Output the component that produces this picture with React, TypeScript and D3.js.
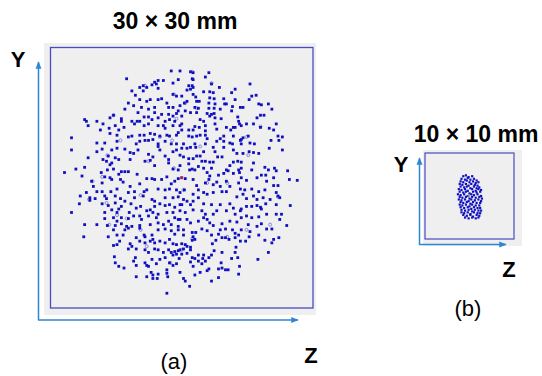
import React from "react";
import * as d3 from "d3";

// spot positions in mm, [z, y], origin at lower-left of the 30 x 30 mm field
const spotsA: [number, number][] = [
  [13.8,27.3],[8.7,26.4],[12.3,26.2],[12.9,26.2],[11.9,26.0],[14.0,25.9],[14.6,26.3],[10.6,25.6],[11.6,25.7],[12.1,25.8],
  [11.0,25.4],[10.2,25.4],[10.6,25.0],[12.3,25.3],[9.3,25.0],[9.7,24.5],[14.0,24.6],[14.4,24.4],[12.7,24.1],[12.3,24.0],
  [11.0,23.8],[11.4,24.0],[10.2,24.0],[8.9,23.6],[9.5,23.3],[10.4,23.1],[11.2,22.9],[11.9,23.1],[13.3,23.6],[13.5,23.1],
  [14.0,23.1],[14.6,22.7],[8.5,22.9],[10.0,22.5],[10.7,22.0],[11.2,22.0],[11.9,22.5],[12.3,21.9],[12.7,22.3],[13.5,22.3],
  [14.0,22.1],[14.4,22.4],[7.2,22.2],[6.8,21.9],[3.9,21.7],[4.1,21.5],[5.3,21.5],[8.1,21.8],[8.1,21.5],[9.9,21.5],
  [10.2,21.5],[9.3,21.5],[11.6,21.7],[13.1,21.5],[13.6,21.7],[14.2,21.5],[4.3,21.0],[6.0,21.2],[6.7,20.7],[7.4,21.0],
  [8.4,20.8],[9.6,21.2],[10.7,21.0],[11.2,21.2],[12.3,21.0],[12.9,21.0],[13.1,20.7],[14.0,21.0],[14.8,21.0],[5.7,20.5],
  [7.8,20.5],[2.4,19.6],[6.8,20.1],[7.6,19.9],[8.9,19.7],[9.3,19.8],[10.2,19.9],[10.7,19.9],[11.4,20.1],[11.9,20.0],
  [12.5,19.8],[13.3,19.9],[13.6,19.8],[14.4,19.9],[14.6,20.2],[6.2,19.0],[5.3,19.0],[7.6,19.2],[9.8,18.9],[10.2,19.2],
  [10.8,19.3],[11.2,19.3],[11.7,19.4],[12.3,18.9],[13.1,19.2],[13.8,18.9],[14.4,18.9],
  [14.8,27.3],[16.0,27.2],[16.3,27.1],[18.1,27.1],[17.7,26.6],[16.2,26.4],[16.3,26.3],[18.4,25.8],[15.8,25.6],[16.2,25.6],
  [16.3,25.4],[16.0,25.2],[15.6,25.1],[19.3,25.4],[21.1,25.2],[22.8,25.8],[17.5,24.9],[18.2,24.9],[18.6,24.8],[20.7,24.8],
  [16.3,24.6],[16.6,24.3],[15.0,24.4],[18.2,24.2],[18.7,24.1],[19.8,24.1],[21.1,24.0],[23.5,24.5],[23.0,24.4],[22.7,24.0],
  [15.3,23.6],[15.6,23.8],[16.7,23.8],[17.0,23.8],[18.1,23.6],[18.8,23.5],[19.9,23.5],[20.1,23.5],[20.8,23.2],[23.8,23.5],
  [24.1,23.4],[24.9,23.5],[21.7,23.1],[22.0,23.1],[25.3,22.9],[14.8,23.3],[16.5,23.1],[16.9,23.0],[18.1,23.0],[18.7,23.0],
  [19.4,22.9],[20.7,22.7],[15.4,22.7],[16.0,22.5],[16.7,22.5],[17.9,22.4],[18.4,22.3],[18.7,22.4],[18.2,22.1],[18.8,21.9],
  [15.0,22.1],[17.1,21.7],[17.5,21.5],[19.5,21.8],[21.4,22.0],[23.6,21.9],[24.0,22.2],[24.4,22.2],[23.2,21.2],[17.7,21.0],
  [18.8,21.2],[21.5,21.5],[21.6,21.2],[21.8,21.0],[20.1,20.8],[20.9,20.8],[21.1,20.8],[22.4,21.2],[24.0,20.8],[25.0,20.7],
  [25.8,21.2],[15.0,21.2],[16.5,20.9],[17.0,20.8],[15.8,20.5],[16.3,20.5],[15.0,20.5],[17.7,20.4],[19.0,20.6],[20.6,20.5],
  [25.5,20.5],[17.1,19.9],[17.7,19.9],[15.8,19.8],[16.2,19.7],[16.7,19.8],[17.9,19.5],[19.8,19.8],[20.9,19.8],[22.0,19.6],
  [22.6,19.8],[26.0,19.8],[26.5,19.7],[25.2,19.3],[26.1,19.3],[19.4,19.5],[21.7,19.3],[21.8,19.4],[19.0,19.2],[19.8,19.2],
  [20.5,19.0],[20.8,18.9],[21.8,18.9],[22.8,19.0],[23.3,18.9],[17.7,18.9],[15.2,18.9],[16.5,18.9],
  [2.4,18.2],[5.3,18.0],[5.9,18.3],[7.0,18.2],[7.6,18.4],[8.5,18.3],[9.1,17.9],[10.0,18.2],[9.5,17.8],[11.2,17.7],
  [11.7,17.4],[12.3,18.6],[13.1,17.5],[12.5,18.2],[13.5,17.1],[14.0,18.0],[14.4,18.2],[6.6,17.5],[7.4,17.3],[7.8,17.1],
  [4.3,17.3],[6.0,17.1],[6.4,16.9],[7.0,16.7],[6.8,16.5],[9.1,17.1],[10.8,16.9],[11.4,17.0],[11.9,16.4],[13.5,16.7],
  [14.0,16.0],[14.6,15.9],[2.9,16.0],[3.9,16.2],[1.6,15.6],[3.6,15.2],[5.8,15.6],[6.5,15.9],[7.2,16.0],[8.1,15.7],
  [8.5,15.7],[8.9,15.7],[9.9,15.4],[7.8,15.4],[6.8,15.0],[6.2,15.1],[4.7,14.6],[5.9,14.4],[7.0,14.8],[8.0,14.8],
  [8.3,14.5],[10.2,14.3],[11.0,14.9],[11.6,14.9],[11.9,14.8],[12.7,14.8],[13.3,15.1],[13.8,14.3],[14.2,14.6],[14.6,14.9],
  [4.9,14.0],[5.3,13.4],[5.9,13.4],[6.9,13.4],[7.6,13.7],[9.1,14.0],[9.6,13.4],[10.7,13.4],[11.0,13.6],[12.3,13.7],
  [13.1,13.6],[13.6,13.7],[14.4,13.6],[4.1,13.3],[4.5,12.7],[5.1,12.6],[6.2,12.9],[6.4,12.6],[7.4,12.9],[8.0,12.6],
  [8.5,12.3],[8.9,13.3],[9.6,12.7],[10.6,12.9],[11.6,12.5],[11.9,12.3],[13.1,12.7],[14.0,12.7],[14.6,12.8],[3.4,12.9],
  [3.3,12.0],[4.5,12.4],[5.9,12.0],[6.6,11.8],[7.4,12.1],[7.8,11.4],[8.1,11.7],[9.2,12.0],[9.8,11.5],[10.3,11.7],
  [11.4,11.3],[11.9,11.7],[12.5,12.0],[13.1,11.8],[13.6,11.9],[14.2,11.6],[14.8,11.9],[2.4,11.0],[6.2,11.0],[7.0,11.3],
  [7.6,11.0],[9.0,11.0],[9.5,10.6],[10.2,10.6],[11.0,11.2],[11.7,11.0],[12.3,10.8],[13.3,11.0],[14.0,11.0],[6.2,10.3],
  [7.2,10.4],[7.6,10.0],[8.1,10.4],[8.9,10.3],[10.4,10.2],[11.2,10.6],[12.1,10.4],[13.5,10.0],[14.2,10.4],[14.6,10.2],
  [3.9,9.6],[5.3,9.6],[6.5,9.5],[7.4,9.5],[8.1,9.7],[8.7,9.4],[9.3,9.4],[10.2,9.5],[11.4,9.6],[12.3,9.8],
  [12.9,9.6],[13.8,9.6],[14.6,9.4],
  [15.0,18.4],[15.6,18.4],[16.0,18.5],[16.6,18.5],[17.5,18.0],[18.6,18.5],[18.8,18.0],[19.8,18.5],[20.9,18.2],[21.3,17.8],
  [22.0,17.8],[22.7,18.0],[23.2,17.9],[23.8,17.8],[25.0,18.4],[26.5,18.2],[14.8,17.6],[15.2,17.4],[15.8,17.2],[16.3,17.2],
  [16.7,17.5],[17.1,17.5],[17.3,16.9],[17.7,16.9],[18.2,16.8],[18.6,16.8],[19.1,17.4],[19.6,17.4],[20.9,16.8],[21.4,16.9],
  [21.8,16.8],[23.2,16.7],[23.0,15.9],[21.8,16.1],[21.5,15.9],[20.5,16.4],[24.5,16.2],[24.9,15.9],[25.6,16.1],[25.8,15.8],
  [27.1,15.8],[14.8,16.4],[15.0,15.0],[15.4,14.9],[15.8,16.6],[16.2,16.0],[16.5,15.9],[15.9,15.9],[16.9,16.3],[17.5,16.1],
  [17.9,15.6],[18.2,15.2],[18.4,16.1],[19.2,15.3],[19.8,15.5],[20.1,15.9],[20.3,15.8],[20.9,15.5],[21.6,15.6],[21.8,15.0],
  [22.4,14.7],[23.6,15.0],[24.1,15.3],[24.6,15.3],[24.7,14.6],[25.5,15.0],[27.3,14.8],[28.2,14.7],[15.3,13.6],[14.8,13.3],
  [16.3,14.8],[16.7,14.1],[16.9,13.6],[17.7,14.4],[18.1,14.8],[18.6,14.2],[19.0,14.5],[19.4,14.0],[20.1,14.6],[20.5,14.0],
  [21.5,14.4],[21.7,13.7],[22.2,13.6],[23.0,13.7],[23.8,13.4],[24.5,13.6],[25.5,14.1],[26.0,14.1],[25.8,13.3],[15.2,12.5],
  [15.6,12.3],[15.0,11.9],[16.3,13.1],[16.9,12.7],[17.5,13.3],[17.9,13.1],[18.6,13.3],[19.6,13.4],[20.1,13.4],[21.3,12.8],
  [22.0,13.1],[22.4,12.6],[23.2,12.9],[23.6,12.5],[24.3,12.7],[25.1,12.5],[26.0,12.9],[26.2,12.7],[23.6,11.8],[24.0,11.6],
  [24.6,12.0],[25.8,11.9],[27.4,11.8],[16.0,11.9],[16.3,12.3],[17.5,12.0],[18.4,11.9],[19.4,11.9],[20.5,12.0],[20.9,11.5],
  [21.8,11.4],[22.4,11.7],[23.0,11.7],[24.1,11.4],[14.8,11.2],[15.4,11.0],[16.3,11.3],[17.3,11.2],[17.7,10.8],[18.6,10.8],
  [19.0,11.2],[20.1,11.2],[21.1,10.8],[21.7,11.2],[22.4,10.6],[23.0,10.4],[23.8,10.5],[24.7,10.8],[25.8,10.8],[26.4,10.8],
  [27.0,9.5],[14.8,10.2],[15.6,10.2],[16.0,9.8],[16.9,10.0],[17.5,10.4],[17.9,10.2],[18.2,9.8],[18.6,9.5],[19.6,9.7],
  [20.5,10.0],[21.3,9.9],[21.8,10.4],[22.6,9.6],[23.6,9.4],[24.1,9.7],[26.2,10.2],
  [3.8,8.2],[6.6,8.2],[7.2,9.0],[7.6,8.4],[8.3,8.4],[8.5,9.0],[8.9,9.2],[9.8,8.1],[10.2,9.2],[10.7,8.4],
  [10.8,8.2],[11.6,8.4],[12.3,9.0],[13.1,9.1],[13.8,8.9],[14.2,8.5],[14.6,9.0],[7.9,7.7],[7.6,7.3],[7.2,7.2],
  [9.1,7.4],[9.3,7.1],[10.2,7.7],[10.8,7.5],[11.4,7.7],[11.7,7.9],[11.9,7.5],[12.5,7.7],[13.1,7.5],[13.6,7.9],
  [14.0,7.4],[14.4,7.3],[8.9,6.8],[9.8,6.8],[10.8,6.7],[11.2,6.4],[11.9,6.8],[12.3,6.7],[12.9,6.4],[13.5,6.7],
  [13.8,6.4],[14.2,6.5],[14.6,6.6],[7.3,5.9],[9.7,5.8],[9.5,5.4],[11.6,5.6],[12.5,5.6],[13.1,5.8],[14.0,6.1],
  [14.4,6.2],[14.7,5.7],[7.4,5.2],[7.8,4.8],[8.4,4.6],[9.8,4.9],[10.8,5.2],[11.0,4.9],[11.2,4.8],[12.1,5.1],
  [13.6,5.2],[14.0,4.9],[14.4,5.1],[13.3,4.4],[11.5,4.1],[9.8,3.6],[11.0,3.6],[11.7,3.8],[12.3,3.9],[11.7,3.4],
  [12.2,3.4],[13.3,4.0],[13.4,3.6],[13.3,1.7],
  [15.2,9.0],[16.2,8.7],[16.6,8.7],[17.3,9.1],[17.9,8.9],[18.4,8.4],[19.4,9.0],[20.0,9.1],[20.8,9.0],[21.1,8.6],
  [21.5,8.4],[21.8,9.0],[22.8,8.8],[23.8,8.4],[24.7,9.1],[25.3,9.1],[15.2,8.4],[16.3,8.2],[16.5,7.9],[16.2,7.8],
  [19.2,8.5],[19.6,8.1],[20.0,8.1],[20.4,7.9],[21.1,8.1],[21.7,7.7],[22.3,7.7],[22.7,8.2],[24.5,7.8],[25.5,7.9],
  [26.1,8.1],[25.3,7.5],[15.0,7.4],[15.4,7.3],[15.6,7.1],[16.0,7.0],[18.5,7.4],[18.9,7.8],[14.8,6.7],[15.2,6.8],
  [16.0,6.7],[21.2,7.0],[21.1,6.4],[24.9,6.4],[18.7,6.6],[19.6,6.4],[15.6,6.3],[15.0,6.2],[16.9,6.1],[17.5,6.1],
  [18.1,5.8],[18.4,6.1],[16.2,5.8],[16.5,5.7],[16.0,5.3],[16.3,4.8],[16.9,5.4],[17.4,5.7],[17.7,5.4],[17.3,5.1],
  [20.7,5.7],[21.4,5.8],[23.7,5.6],[19.5,5.2],[21.6,4.8],[19.6,4.6],[20.0,4.4],[20.3,4.4],[18.1,4.5],[17.9,4.3],
  [19.2,4.5],[14.8,4.1],[17.1,4.1],[16.5,3.8],[21.5,3.9],[19.2,3.5],[15.2,3.4],[15.4,3.1],[18.4,3.1],[15.9,2.5],
];

// faint ring-shaped spots
const ringsA: [number, number][] = [
  [10.8,25.6],[16.2,27.2],[14.1,24.6],[16.7,23.0],[15.4,23.6],[18.4,25.9],[7.2,22.2],[6.5,17.6],[4.8,14.6],[5.9,15.1],
  [6.4,12.1],[7.6,10.7],[6.7,9.6],[10.3,9.0],[11.0,7.1],[13.7,5.2],[15.0,6.7],[16.2,8.0],[14.1,16.1],[15.2,13.6],
  [17.9,14.4],[20.2,14.4],[22.6,17.6],[22.4,19.7],[24.0,20.9],[22.4,9.0],[20.2,8.2],[25.1,9.6],[26.0,12.8],[10.3,13.0],
  [8.7,10.3],[12.5,19.7],[13.9,19.3],[11.2,16.9],[8.0,19.3],[14.4,21.8],[17.1,18.6],[4.4,12.5],
];

const centerA: [number, number] = [15.0, 15.0];

// 10 x 10 mm field
const spotsB: [number, number][] = [
  [4.3,7.3],[4.6,7.4],[4.9,7.2],[5.3,7.3],
  [4.1,7.0],[4.5,6.9],[4.8,7.1],[5.1,6.9],[5.5,7.0],[5.8,6.8],
  [4.0,6.7],[4.3,6.6],[4.7,6.8],[5.0,6.6],[5.4,6.7],[5.7,6.5],[6.0,6.6],
  [3.9,6.4],[4.2,6.3],[4.6,6.4],[4.9,6.2],[5.2,6.4],[5.6,6.3],[5.9,6.2],
  [4.0,6.1],[4.4,6.0],[4.7,6.1],[5.1,5.9],[5.5,6.1],[5.8,5.9],[6.1,6.0],
  [3.8,5.8],[4.1,5.7],[4.5,5.8],[4.8,5.6],[5.3,5.8],[5.7,5.6],[6.0,5.8],[6.3,5.7],
  [3.9,5.5],[4.3,5.4],[4.6,5.5],[5.0,5.3],[5.4,5.5],[5.8,5.4],[6.2,5.5],
  [3.7,5.2],[4.0,5.1],[4.4,5.2],[4.8,5.0],[5.2,5.2],[5.5,5.1],[5.9,5.2],[6.3,5.0],
  [3.9,4.9],[4.2,4.8],[4.6,4.9],[5.0,4.7],[5.3,4.9],[5.7,4.8],[6.1,4.9],[6.4,4.7],
  [3.8,4.6],[4.1,4.5],[4.5,4.6],[4.9,4.4],[5.2,4.6],[5.6,4.5],[6.0,4.6],[6.3,4.4],
  [4.0,4.3],[4.3,4.2],[4.7,4.3],[5.1,4.1],[5.4,4.3],[5.8,4.2],[6.2,4.2],
  [3.9,4.0],[4.2,3.9],[4.6,4.0],[5.0,3.8],[5.3,4.0],[5.7,3.9],[6.1,3.9],
  [4.0,3.7],[4.4,3.6],[4.8,3.7],[5.2,3.5],[5.5,3.7],[5.9,3.6],[6.2,3.6],
  [4.1,3.4],[4.5,3.3],[4.9,3.4],[5.3,3.2],[5.6,3.4],[6.0,3.3],[6.3,3.3],
  [4.1,3.1],[4.4,3.0],[4.8,3.1],[5.1,2.9],[5.5,3.1],[5.9,3.0],[6.2,3.0],
  [4.3,2.8],[4.7,2.7],[5.1,2.8],[5.4,2.6],[5.8,2.8],[6.1,2.7],
  [4.5,2.5],[4.9,2.4],[5.3,2.5],[5.7,2.4],[6.0,2.5],
];

const centerB: [number, number] = [4.9, 5.0];

const axisBlue = "#2f86d2";
const frameBlue = "#4a4ac4";
const dotBlue = "#1010c0";
const font = "'Liberation Sans', Arial, sans-serif";

export default function App() {
  // panel (a): 30 x 30 mm
  const xa = d3.scaleLinear().domain([0, 30]).range([50.5, 313]);
  const ya = d3.scaleLinear().domain([0, 30]).range([308, 47.5]);
  // panel (b): 10 x 10 mm
  const xb = d3.scaleLinear().domain([0, 10]).range([425, 514]);
  const yb = d3.scaleLinear().domain([0, 10]).range([239, 153]);

  return (
    <svg width={542} height={376} style={{ position: "absolute", left: 0, top: 0, background: "#fff" }}>
      <defs>
        <marker id="arr" viewBox="0 0 10 10" refX="9" refY="5" markerWidth="5" markerHeight="5" orient="auto">
          <path d="M0,1 L10,5 L0,9 z" fill={axisBlue} />
        </marker>
      </defs>

      {/* panel a */}
      <rect x={44} y={43} width={272} height={272} fill="#efefef" />
      <rect x={xa(0)} y={ya(30)} width={xa(30) - xa(0)} height={ya(0) - ya(30)} fill="#efefef" stroke={frameBlue} strokeWidth={1.3} />
      {ringsA.map((d, i) => (
        <circle key={"r" + i} cx={xa(d[0])} cy={ya(d[1])} r={1.5} fill="none" stroke="#7070d8" strokeWidth={0.8} />
      ))}
      {spotsA.map((d, i) => (
        <rect key={"a" + i} x={xa(d[0]) - 1.4} y={ya(d[1]) - 1.4} width={2.8} height={2.8} fill={dotBlue} />
      ))}
      <rect x={xa(centerA[0]) - 1.2} y={ya(centerA[1]) - 1.2} width={2.4} height={2.4} fill="#e0202a" />
      <line x1={38.5} y1={320} x2={38.5} y2={62} stroke={axisBlue} strokeWidth={1.5} markerEnd="url(#arr)" />
      <line x1={38} y1={320} x2={298} y2={320} stroke={axisBlue} strokeWidth={1.5} markerEnd="url(#arr)" />
      <text x={175} y={29} textAnchor="middle" fontFamily={font} fontWeight="bold" fontSize={23}>30 × 30 mm</text>
      <text x={18} y={67} textAnchor="middle" fontFamily={font} fontWeight="bold" fontSize={22}>Y</text>
      <text x={311} y={363} textAnchor="middle" fontFamily={font} fontWeight="bold" fontSize={22}>Z</text>
      <text x={174} y={369} textAnchor="middle" fontFamily={font} fontSize={22}>(a)</text>

      {/* panel b */}
      <rect x={423} y={150} width={99} height={96} fill="#efefef" />
      <rect x={xb(0)} y={yb(10)} width={xb(10) - xb(0)} height={yb(0) - yb(10)} fill="#efefef" stroke={frameBlue} strokeWidth={1.2} />
      {spotsB.map((d, i) => (
        <rect key={"b" + i} x={xb(d[0]) - 1.1} y={yb(d[1]) - 1.1} width={2.2} height={2.2} fill={dotBlue} />
      ))}
      <rect x={xb(centerB[0]) - 1} y={yb(centerB[1]) - 1} width={2} height={2} fill="#4a9a40" />
      <line x1={419.5} y1={244.5} x2={419.5} y2={158} stroke={axisBlue} strokeWidth={1.5} markerEnd="url(#arr)" />
      <line x1={419} y1={244.5} x2={506} y2={244.5} stroke={axisBlue} strokeWidth={1.5} markerEnd="url(#arr)" />
      <text x={476} y={142} textAnchor="middle" fontFamily={font} fontWeight="bold" fontSize={23}>10 × 10 mm</text>
      <text x={401} y={172} textAnchor="middle" fontFamily={font} fontWeight="bold" fontSize={22}>Y</text>
      <text x={509} y={277} textAnchor="middle" fontFamily={font} fontWeight="bold" fontSize={22}>Z</text>
      <text x={468} y={316} textAnchor="middle" fontFamily={font} fontSize={22}>(b)</text>
    </svg>
  );
}
